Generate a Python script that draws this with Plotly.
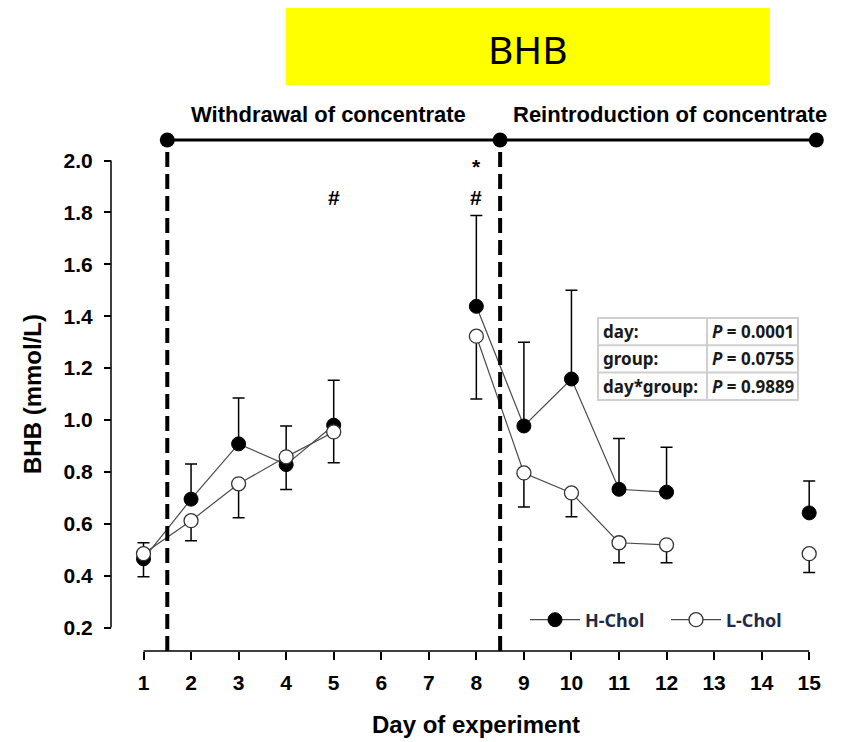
import plotly.graph_objects as go

# ---------------- data ----------------
days = list(range(1, 16))
h_chol = [0.465, 0.695, 0.908, 0.828, 0.980, None, None, 1.438, 0.977, 1.158, 0.733, 0.722, None, None, 0.642]
h_err_up = [0.0, 0.135, 0.177, 0.0, 0.173, None, None, 0.350, 0.323, 0.342, 0.196, 0.173, None, None, 0.123]
h_err_down = [0.069, 0.0, 0.0, 0.096, 0.0, None, None, 0.0, 0.0, 0.0, 0.0, 0.0, None, None, 0.0]
l_chol = [0.485, 0.612, 0.754, 0.858, 0.954, None, None, 1.323, 0.796, 0.719, 0.527, 0.519, None, None, 0.485]
l_err_up = [0.042, 0.0, 0.0, 0.119, 0.0, None, None, 0.0, 0.0, 0.0, 0.0, 0.0, None, None, 0.0]
l_err_down = [0.0, 0.077, 0.131, 0.0, 0.119, None, None, 0.242, 0.131, 0.092, 0.077, 0.069, None, None, 0.073]
y_ticks = [0.2, 0.4, 0.6, 0.8, 1.0, 1.2, 1.4, 1.6, 1.8, 2.0]
x_ticks = days
phase_points = [1.5, 8.5, 15.15]
phase_labels = ["Withdrawal of concentrate", "Reintroduction of concentrate"]
phase_label_x = [4.9, 12.07]
marks = [(5, "#", 1.858), (8, "#", 1.858), (8, "*", 1.978)]
stats_rows = ["day:", "group:", "day*group:"]
stats_p = ["0.0001", "0.0755", "0.9889"]

W, H = 848, 742
PX_DAY = 47.55
X0PX = 143.5        # pixel of day 1
PX_UNIT = 259.5     # pixels per mmol/L
Y2PX = 160.5        # pixel of 2.0

def px(x):
    return x / W

def py(y):
    return 1 - y / H

x_range = [1 - X0PX / PX_DAY, 1 + (W - X0PX) / PX_DAY]
y_range = [2.0 - (H - Y2PX) / PX_UNIT, 2.0 + Y2PX / PX_UNIT]
x_axis_px = 651
y_axis_px = 111
x_axis_val = 2.0 - (x_axis_px - Y2PX) / PX_UNIT
y_axis_val = 1 + (y_axis_px - X0PX) / PX_DAY
top_line_val = 2.0 - (140 - Y2PX) / PX_UNIT
label_val = 2.0 - (114 - Y2PX) / PX_UNIT

ARIAL = "Liberation Sans, Arial, sans-serif"
SANS = "Noto Sans, Open Sans, sans-serif"
AX_FONT = dict(family=ARIAL, size=21, color="black", weight="bold")

fig = go.Figure()

fig.add_trace(go.Scatter(
    x=days, y=h_chol, name="H-Chol", mode="lines+markers", connectgaps=False,
    line=dict(color="#4a4a4a", width=1.2),
    marker=dict(symbol="circle", size=14, color="black", line=dict(color="black", width=1)),
    error_y=dict(type="data", symmetric=False, array=h_err_up, arrayminus=h_err_down,
                 color="black", thickness=1.5, width=6),
    cliponaxis=False,
))
fig.add_trace(go.Scatter(
    x=days, y=l_chol, name="L-Chol", mode="lines+markers", connectgaps=False,
    line=dict(color="#4a4a4a", width=1.2),
    marker=dict(symbol="circle", size=14, color="white", line=dict(color="#333333", width=1.3)),
    error_y=dict(type="data", symmetric=False, array=l_err_up, arrayminus=l_err_down,
                 color="black", thickness=1.5, width=6),
    cliponaxis=False,
))

# phase bar on top
fig.add_trace(go.Scatter(
    x=phase_points, y=[top_line_val] * len(phase_points), mode="lines+markers",
    line=dict(color="black", width=3), marker=dict(size=15, color="black"),
    showlegend=False, hoverinfo="skip", cliponaxis=False,
))

shapes = []
# dashed phase boundaries
for xb in phase_points[:2]:
    shapes.append(dict(type="line", xref="x", yref="y", x0=xb, x1=xb, y0=x_axis_val, y1=top_line_val,
                       line=dict(color="black", width=4, dash="15px,7px")))
# axis lines
shapes.append(dict(type="line", xref="x", yref="y", x0=y_axis_val, x1=y_axis_val, y0=y_ticks[0], y1=y_ticks[-1],
                   line=dict(color="black", width=1.5)))
shapes.append(dict(type="line", xref="x", yref="y", x0=x_ticks[0], x1=x_ticks[-1], y0=x_axis_val, y1=x_axis_val,
                   line=dict(color="black", width=1.5)))
# yellow title box
shapes.append(dict(type="rect", xref="paper", yref="paper", x0=px(286), x1=px(770), y0=py(85), y1=py(8),
                   fillcolor="#FFFF00", line=dict(width=0), layer="below"))
# stats table
tx0, tx1, tcol, ty0, rh = 598, 798, 707, 318, 27.3
tcolor = "#cfcfcf"
shapes.append(dict(type="rect", xref="paper", yref="paper", x0=px(tx0), x1=px(tx1), y0=py(ty0 + 3 * rh), y1=py(ty0),
                   line=dict(color=tcolor, width=2), fillcolor="white"))
for i in (1, 2):
    shapes.append(dict(type="line", xref="paper", yref="paper", x0=px(tx0), x1=px(tx1),
                       y0=py(ty0 + i * rh), y1=py(ty0 + i * rh), line=dict(color=tcolor, width=2)))
shapes.append(dict(type="line", xref="paper", yref="paper", x0=px(tcol), x1=px(tcol),
                   y0=py(ty0), y1=py(ty0 + 3 * rh), line=dict(color=tcolor, width=2)))

annotations = []
annotations.append(dict(text="BHB", x=px(528), y=py(48), xref="paper", yref="paper", showarrow=False,
                        xanchor="center", yanchor="middle",
                        font=dict(family=SANS, size=39, color="black")))
for lab, lx in zip(phase_labels, phase_label_x):
    annotations.append(dict(text=lab, x=lx, y=label_val, xref="x", yref="y", showarrow=False,
                            xanchor="center", yanchor="middle",
                            font=dict(family=ARIAL, size=22, color="black", weight="bold")))
for mx, mt, my in marks:
    annotations.append(dict(text=mt, x=mx, y=my, xref="x", yref="y", showarrow=False,
                            xanchor="center", yanchor="middle",
                            font=dict(family=ARIAL, size=21, color="black", weight="bold")))
TFONT = dict(family=SANS, size=17, color="#1a1a1a", weight="bold")
for i, (r, p) in enumerate(zip(stats_rows, stats_p)):
    yc = ty0 + (i + 0.5) * rh
    annotations.append(dict(text=r, x=px(tx0 + 3), y=py(yc), xref="paper", yref="paper", showarrow=False,
                            xanchor="left", yanchor="middle", font=TFONT))
    annotations.append(dict(text="<i>P</i> = " + p, x=px(tcol + 3), y=py(yc), xref="paper", yref="paper",
                            showarrow=False, xanchor="left", yanchor="middle", font=TFONT))
annotations.append(dict(text="BHB (mmol/L)", x=px(32), y=py(394), xref="paper", yref="paper", showarrow=False,
                        textangle=-90, xanchor="center", yanchor="middle",
                        font=dict(family=ARIAL, size=24, color="black", weight="bold")))
annotations.append(dict(text="Day of experiment", x=px(476), y=py(724), xref="paper", yref="paper", showarrow=False,
                        xanchor="center", yanchor="middle",
                        font=dict(family=ARIAL, size=24, color="black", weight="bold")))

fig.update_layout(
    width=W, height=H, margin=dict(l=0, r=0, t=0, b=0),
    paper_bgcolor="white", plot_bgcolor="white",
    shapes=shapes, annotations=annotations,
    showlegend=True,
    legend=dict(orientation="h", x=px(525), y=py(620), xanchor="left", yanchor="middle",
                bgcolor="rgba(0,0,0,0)", itemwidth=50, entrywidth=76, entrywidthmode="pixels",
                font=dict(family=SANS, size=18, color="#1F2A44", weight="bold")),
    xaxis=dict(domain=[0, 1], range=x_range, anchor="free", position=(H - x_axis_px) / H,
               showline=False, showgrid=False, zeroline=False,
               tickmode="array", tickvals=x_ticks, ticktext=[str(d) for d in x_ticks],
               ticks="outside", ticklen=8, tickwidth=1.5, tickcolor="black",
               ticklabelstandoff=5, tickfont=AX_FONT),
    yaxis=dict(domain=[0, 1], range=y_range, anchor="free", position=y_axis_px / W,
               showline=False, showgrid=False, zeroline=False,
               tickmode="array", tickvals=y_ticks, ticktext=[f"{v:.1f}" for v in y_ticks],
               ticks="outside", ticklen=7, tickwidth=1.5, tickcolor="black",
               ticklabelstandoff=7, tickfont=AX_FONT),
)

fig.write_html("out.html")
